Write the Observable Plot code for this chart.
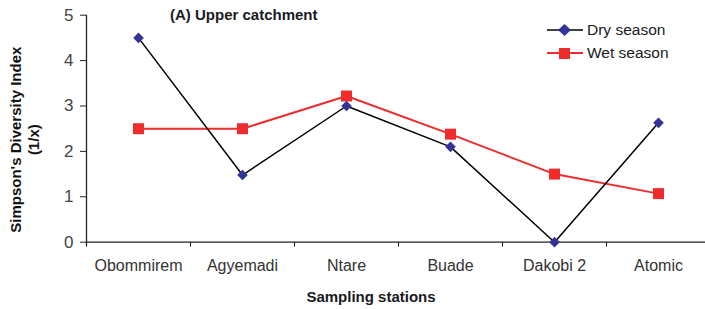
<!DOCTYPE html>
<html><head><meta charset="utf-8">
<script src="https://cdn.jsdelivr.net/npm/d3@7"></script>
<script src="https://cdn.jsdelivr.net/npm/@observablehq/plot@0.6"></script>
<style>
body{margin:0;background:#fff;}
#wrap{position:relative;width:705px;height:309px;font-family:"Liberation Sans",Arial,sans-serif;overflow:hidden;}
.title{position:absolute;font-weight:bold;color:#1a1a22;white-space:nowrap;}
#legend{position:absolute;left:547px;top:18px;font-size:15.5px;color:#1a1a22;}
#legend .row{display:flex;align-items:center;height:23.4px;}
#legend svg{margin-right:4px;}
</style></head><body><div id="wrap"></div>
<script>
const stations = ["Obommirem", "Agyemadi", "Ntare", "Buade", "Dakobi 2", "Atomic"];
const drySeason = [4.5, 1.48, 3.0, 2.1, 0, 2.63];
const wetSeason = [2.5, 2.5, 3.22, 2.38, 1.5, 1.07];
const seriesNames = ["Dry season", "Wet season"];
const yTicks = [0, 1, 2, 3, 4, 5];
const titleText = "(A) Upper catchment";
const xTitle = "Sampling stations";
const yTitle = "Simpson's Diversity Index\n(1/x)";

const dryColor = "#000000", dryMarker = "#333399", wetColor = "#ee2c2c";
const dryRows = stations.map((s, i) => ({i: i + 0.5, station: s, value: drySeason[i]}));
const wetRows = stations.map((s, i) => ({i: i + 0.5, station: s, value: wetSeason[i]}));
const boundaries = d3.range(0, stations.length + 1);
const centers = stations.map((s, i) => i + 0.5);

const chart = Plot.plot({
  width: 705, height: 309,
  marginLeft: 86, marginRight: 0, marginTop: 14.7, marginBottom: 67.3,
  style: {fontFamily: "'Liberation Sans', Arial, sans-serif", background: "#fff", overflow: "visible"},
  x: {type: "linear", domain: [0, stations.length], range: [86, 710]},
  y: {domain: [0, 5]},
  marks: [
    Plot.axisX({ticks: boundaries, tickFormat: () => "", tickSize: 5, stroke: "#222", label: null}),
    Plot.axisX({ticks: centers, tickFormat: d => stations[d - 0.5], tickSize: 0, tickPadding: 17, fontSize: 16, fill: "#333", label: null}),
    Plot.axisY({ticks: yTicks, tickFormat: d => String(d), tickSize: 6, tickPadding: 7, fontSize: 17, fill: "#444", stroke: "#222", label: null}),
    Plot.ruleY([0], {stroke: "#222", strokeWidth: 1.3}),
    Plot.ruleX([0], {y1: 5, y2: -0.09, stroke: "#222", strokeWidth: 1.3}),
    Plot.text([yTitle], {frameAnchor: "left", textAnchor: "middle", lineAnchor: "middle", rotate: -90, dx: -62, dy: 11, fontWeight: "bold", fontSize: 15, lineHeight: 1.2, fill: "#111"}),
    Plot.line(wetRows, {x: "i", y: "value", stroke: wetColor, strokeWidth: 2}),
    Plot.line(dryRows, {x: "i", y: "value", stroke: dryColor, strokeWidth: 1.5}),
    Plot.dot(wetRows, {x: "i", y: "value", symbol: "square", r: 6.2, fill: wetColor, stroke: "none"}),
    Plot.dot(dryRows, {x: "i", y: "value", symbol: "diamond2", r: 4.8, fill: dryMarker, stroke: "none"})
  ]
});
const wrap = document.getElementById("wrap");
wrap.appendChild(chart);

const t = document.createElement("div");
t.className = "title"; t.textContent = titleText;
t.style.cssText = "left:170px;top:6px;font-size:15px;";
wrap.appendChild(t);

const xt = document.createElement("div");
xt.className = "title"; xt.textContent = xTitle;
xt.style.cssText = "left:371px;top:288px;font-size:15px;transform:translateX(-50%);";
wrap.appendChild(xt);

const legend = document.createElement("div");
legend.id = "legend";
const legendStyles = [
  {line: dryColor, marker: dryMarker, shape: "diamond"},
  {line: wetColor, marker: wetColor, shape: "square"}
];
seriesNames.forEach((name, k) => {
  const st = legendStyles[k];
  const row = document.createElement("div");
  row.className = "row";
  const shape = st.shape === "diamond"
    ? `<path d="M17.5,1 L24,7 L17.5,13 L11,7 Z" fill="${st.marker}"/>`
    : `<rect x="12" y="2" width="11" height="11" fill="${st.marker}"/>`;
  row.innerHTML = `<svg width="36" height="14"><line x1="0" x2="36" y1="7" y2="7" stroke="${st.line}" stroke-width="${k ? 2 : 1.5}"/>${shape}</svg><span>${name}</span>`;
  legend.appendChild(row);
});
wrap.appendChild(legend);
</script>
</body></html>
